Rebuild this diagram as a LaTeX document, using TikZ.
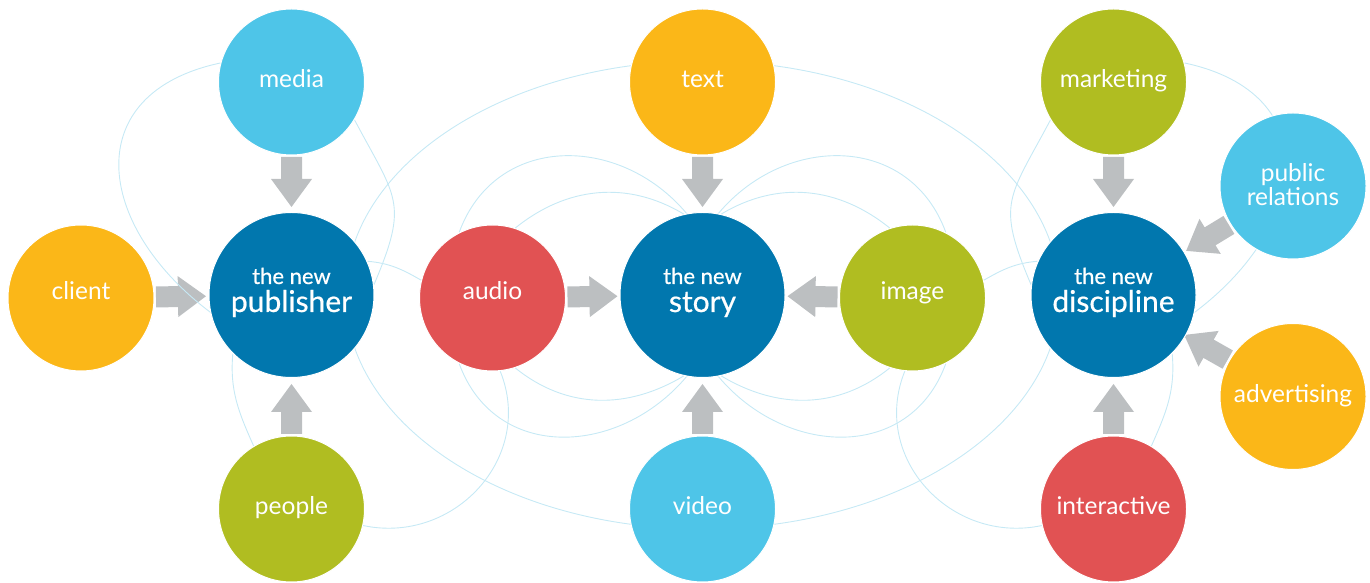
\documentclass[tikz,border=0pt]{standalone}
\usepackage{fontspec}
\setmainfont{Lato}
\newfontfamily\hubfont{Lato}[FakeBold=0.6]
\usetikzlibrary{calc,backgrounds}

\definecolor{skyblue}{HTML}{4EC5E8}
\definecolor{hubblue}{HTML}{0177AE}
\definecolor{sunyellow}{HTML}{FBB718}
\definecolor{limegreen}{HTML}{B0BD21}
\definecolor{coralred}{HTML}{E15253}
\definecolor{arrowgray}{HTML}{BCBFC1}
\definecolor{wireblue}{HTML}{C6E9F5}

\tikzset{
  bubble/.style={circle, draw=white, line width=1pt, minimum size=146pt, inner sep=0pt,
    text=white, font=\fontsize{24.5}{28}\selectfont, text height=12pt, text depth=0pt},
  midrow/.style={text height=4pt},
  hub/.style={circle, draw=white, line width=1pt, fill=hubblue, minimum size=165pt, inner sep=0pt},
  lbl/.style={anchor=base, inner sep=0pt, text=white, font=\fontsize{24.5}{28}\selectfont,
    text height=17pt, text depth=5pt},
  hubtop/.style={anchor=base, inner sep=0pt, text=white, font=\hubfont\fontsize{22}{26}\selectfont,
    text height=16pt, text depth=0pt},
  hubname/.style={anchor=base, inner sep=0pt, text=white, font=\hubfont\fontsize{30}{35}\selectfont,
    text height=22pt, text depth=7pt},
  wire/.style={draw=wireblue, line width=0.9pt},
}

% grey block arrow pointing from circle #1 to circle #2
\newcommand\feed[2]{%
  \coordinate (ft) at ($(#1.center)!75pt!(#2.center)$);
  \coordinate (fb) at ($(#1.center)!97pt!(#2.center)$);
  \coordinate (fh) at ($(#1.center)!125pt!(#2.center)$);
  \fill[arrowgray] ($(ft)!10.5pt!90:(fh)$) -- ($(fb)!10.5pt!90:(fh)$)
    -- ($(fb)!20.5pt!90:(fh)$) -- (fh) -- ($(fb)!20.5pt!-90:(fh)$)
    -- ($(fb)!10.5pt!-90:(fh)$) -- ($(ft)!10.5pt!-90:(fh)$) -- cycle;}

\begin{document}
\begin{tikzpicture}[x=1pt, y=1pt]
\useasboundingbox (0,0) rectangle (1370,583);

% publisher
\node[bubble, fill=skyblue] (media) at (291.5,501) {media};
\node[bubble, midrow, fill=sunyellow] (client) at (81,285) {client};
\node[hub] (pub) at (291.5,288) {};
\node[bubble, fill=limegreen] (people) at (291.5,74) {people};
\node[hubtop] (pubA) at ([yshift=11pt]pub.center) {the new};
\node[hubname] (pubB) at ([yshift=-17pt]pub.center) {publisher};

% story
\node[bubble, fill=sunyellow] (txt) at (702.5,501) {text};
\node[bubble, midrow, fill=coralred] (audio) at (492.5,285) {audio};
\node[hub] (story) at (702.5,288) {};
\node[bubble, midrow, fill=limegreen] (image) at (912.5,285) {image};
\node[bubble, fill=skyblue] (video) at (702.5,74) {video};
\node[hubtop] (storyA) at ([yshift=11pt]story.center) {the new};
\node[hubname] (storyB) at ([yshift=-17pt]story.center) {story};

% discipline
\node[bubble, fill=limegreen] (marketing) at (1113.5,501) {marketing};
\node[bubble, fill=skyblue] (pr) at (1293,397) {};
\node[hub] (disc) at (1113.5,288) {};
\node[bubble, fill=sunyellow] (advert) at (1293,186.5) {advertising};
\node[bubble, fill=coralred] (interactive) at (1113.5,74) {interactive};
\node[lbl] (prA) at ([yshift=4pt]pr.center) {public};
\node[lbl] (prB) at ([yshift=-20pt]pr.center) {relations};
\node[hubtop] (discA) at ([yshift=11pt]disc.center) {the new};
\node[hubname] (discB) at ([yshift=-17pt]disc.center) {discipline};

\begin{scope}[on background layer]
\feed{media}{pub}
\feed{client}{pub}
\feed{people}{pub}
\feed{txt}{story}
\feed{audio}{story}
\feed{image}{story}
\feed{video}{story}
\feed{marketing}{disc}
\feed{pr}{disc}
\feed{advert}{disc}
\feed{interactive}{disc}

% thin links behind the circles
\draw[wire] (story.center) ellipse [x radius=357, y radius=234];
\draw[wire] (media.165) to[out=192, in=143, distance=145] (pub.192);
\draw[wire] (media.-31) to[out=-62, in=67, distance=90] (pub.7);
\draw[wire] (pub.24) to[out=-5, in=150] (audio.166);
\draw[wire] (pub.225) to[out=-95, in=114] (people.121);
\draw[wire] (people.-13) to[out=-12, in=-68, distance=93] (audio.-84);
\draw[wire] (marketing.15) to[out=-12, in=37, distance=145] (disc.-12);
\draw[wire] (marketing.211) to[out=242, in=113, distance=90] (disc.173);
\draw[wire] (disc.156) to[out=185, in=30] (image.14);
\draw[wire] (disc.-45) to[out=-85, in=66] (interactive.59);
\draw[wire] (interactive.193) to[out=192, in=248, distance=93] (image.264);
\draw[wire] (audio.72) to[out=39, in=149] (story.103);
\draw[wire] (audio.117) to[out=70, in=130, distance=105] (story.101);
\draw[wire] (audio.-72) to[out=-39, in=-149] (story.-103);
\draw[wire] (audio.-117) to[out=-70, in=-130, distance=105] (story.-101);
\draw[wire] (image.108) to[out=141, in=31] (story.77);
\draw[wire] (image.63) to[out=110, in=50, distance=105] (story.79);
\draw[wire] (image.-108) to[out=-141, in=-31] (story.-77);
\draw[wire] (image.-63) to[out=-110, in=-50, distance=105] (story.-79);
\end{scope}
\end{tikzpicture}
\end{document}
